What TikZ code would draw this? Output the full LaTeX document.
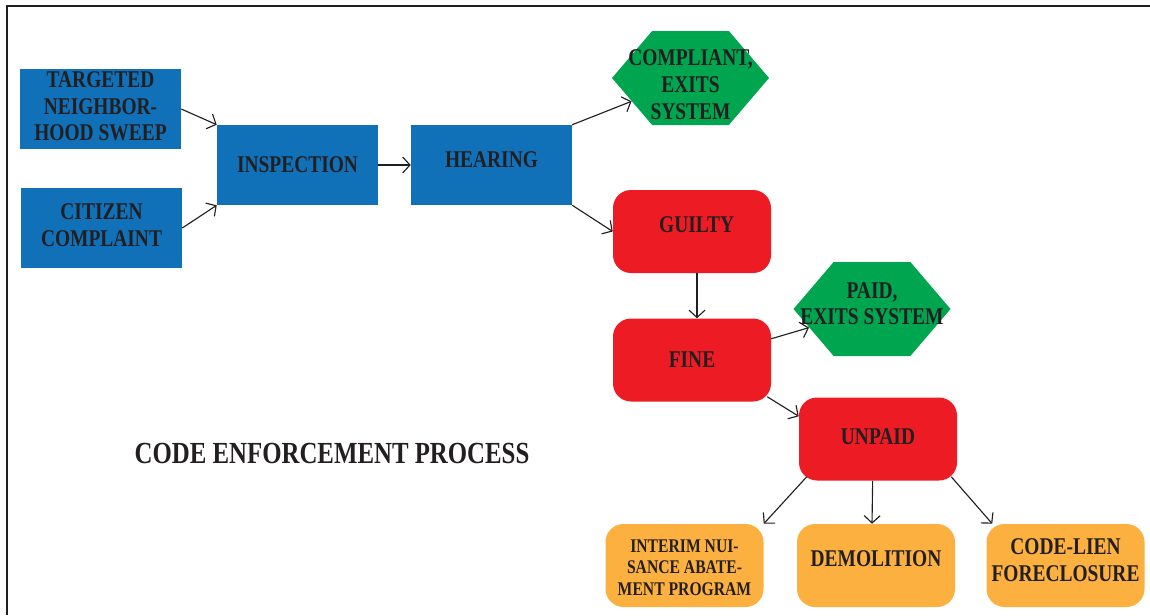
\documentclass[tikz,border=0pt]{standalone}
\usepackage{fontspec}
\newfontfamily\flowfont{Liberation Serif}[FakeStretch=0.81]
\usetikzlibrary{shapes.symbols}
\usetikzlibrary{arrows.meta}

\definecolor{boxblue}{HTML}{1071B9}
\definecolor{boxred}{HTML}{ED1C24}
\definecolor{boxgreen}{HTML}{00A550}
\definecolor{boxorange}{HTML}{FBB040}
\definecolor{inkgray}{HTML}{231F20}

\tikzset{
  flowtxt/.style={font=\flowfont\bfseries\fontsize{18}{20}\selectfont, text=inkgray, align=center, inner sep=0pt},
  smalltxt/.style={font=\flowfont\bfseries\fontsize{14.5}{16}\selectfont, text=inkgray, align=center, inner sep=0pt},
  titletxt/.style={font=\flowfont\bfseries\fontsize{23}{26}\selectfont, text=inkgray, inner sep=0pt},
  bluebox/.style={fill=boxblue, minimum width=120.75pt, minimum height=60pt, inner sep=0pt},
  redbox/.style={fill=boxred, rounded corners=13.5pt, minimum width=118.5pt, minimum height=62.25pt, inner sep=0pt},
  orangebox/.style={fill=boxorange, rounded corners=13.5pt, minimum width=118.5pt, minimum height=62.25pt, inner sep=0pt},
  exitbox/.style={fill=boxgreen, signal, signal to=east and west, signal pointer angle=99, minimum width=117.75pt, minimum height=70.5pt, inner sep=0pt},
  flowarrow/.style={draw=inkgray, line width=0.85pt, -{Straight Barb[length=5.5pt,width=12pt]}}
}

\begin{document}
\begin{tikzpicture}[x=0.75pt,y=0.75pt,yscale=-1,xscale=1]
\useasboundingbox (0,0) rectangle (1150,615);

%Frame
\draw [inkgray, line width=1.3pt] (7,615) -- (7,6) -- (1150,6) ;

%Shape: Rectangle [tgt]
\node [bluebox, label={[flowtxt,yshift=2pt]center:TARGETED\\NEIGHBOR-\\HOOD SWEEP}] (tgt) at (100.5,109) {};
%Shape: Rectangle [cit]
\node [bluebox, label={[flowtxt,yshift=2pt]center:CITIZEN\\COMPLAINT}] (cit) at (101.5,228) {};
%Shape: Rectangle [insp]
\node [bluebox, label={[flowtxt]center:INSPECTION}] (insp) at (297.5,165) {};
%Shape: Rectangle [hear]
\node [bluebox, label={[flowtxt,yshift=3.75pt]center:HEARING}] (hear) at (491.5,165) {};

%Shape: Hexagon [comp]
\node [exitbox, label={[flowtxt,yshift=-5pt]center:COMPLIANT,\\EXITS\\SYSTEM}] (comp) at (690.5,78) {};
%Shape: Rounded Rect [guilty]
\node [redbox, label={[flowtxt,yshift=5.5pt,xshift=3.5pt]center:GUILTY}] (guilty) at (692,231.5) {};
%Shape: Hexagon [paid]
\node [exitbox, label={[flowtxt,yshift=4pt]center:PAID,\\EXITS SYSTEM}] (paid) at (872,309) {};
%Shape: Rounded Rect [fine]
\node [redbox, label={[flowtxt]center:FINE}] (fine) at (692,360) {};
%Shape: Rounded Rect [unpaid]
\node [redbox, label={[flowtxt,yshift=2pt]center:UNPAID}] (unpaid) at (878,439) {};

%Shape: Rounded Rect [interim]
\node [orangebox, label={[smalltxt,yshift=-1.5pt]center:INTERIM NUI-\\SANCE ABATE-\\MENT PROGRAM}] (interim) at (684.5,565.5) {};
%Shape: Rounded Rect [demo]
\node [orangebox, label={[flowtxt,yshift=5pt]center:DEMOLITION}] (demo) at (876,565.5) {};
%Shape: Rounded Rect [lien]
\node [orangebox, label={[flowtxt,yshift=4pt]center:CODE-LIEN\\FORECLOSURE}] (lien) at (1065.5,565.5) {};

%Straight Lines
\draw [flowarrow] (tgt.east) -- (insp.north west) ;
\draw [flowarrow] (cit.east) -- (insp.south west) ;
\draw [flowarrow] (insp.east) -- (hear.west) ;
\draw [flowarrow] (hear.north east) -- (comp) ;
\draw [flowarrow] (hear.south east) -- (guilty.west) ;
\draw [flowarrow] ([xshift=3.75pt]guilty.south) -- ([xshift=3.75pt]fine.north) ;
\draw [flowarrow] (fine.15) -- (paid) ;
\draw [flowarrow] ([xshift=-3pt,yshift=-3.75pt]fine.south east) -- (unpaid.164) ;
\draw [flowarrow] ([xshift=6pt,yshift=-3pt]unpaid.south west) -- (interim.north east) ;
\draw [flowarrow] ([xshift=-4pt]unpaid.south) -- ([xshift=-3pt]demo.north) ;
\draw [flowarrow] ([xshift=-4.5pt,yshift=-3pt]unpaid.south east) -- ([xshift=4.5pt]lien.north west) ;

% Text Node
\node [titletxt] (title) at (332,453) {CODE ENFORCEMENT PROCESS};

\end{tikzpicture}
\end{document}
